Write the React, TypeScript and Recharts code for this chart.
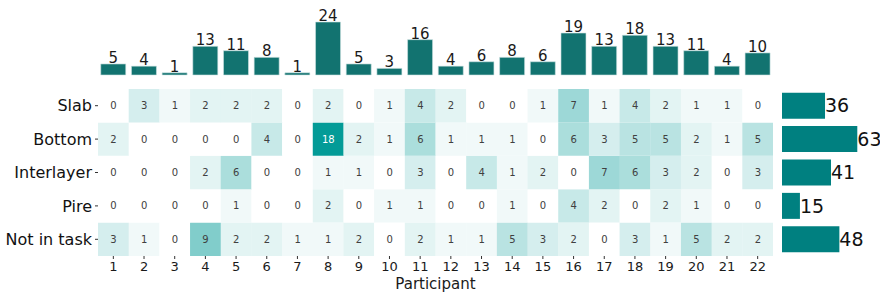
import React from "react"
import { BarChart, Bar, XAxis, YAxis, Cell, LabelList } from "recharts"

const participants = ["1", "2", "3", "4", "5", "6", "7", "8", "9", "10", "11", "12", "13", "14", "15", "16", "17", "18", "19", "20", "21", "22"]
const rowNames = ["Slab", "Bottom", "Interlayer", "Pire", "Not in task"]

const slab = [0, 3, 1, 2, 2, 2, 0, 2, 0, 1, 4, 2, 0, 0, 1, 7, 1, 4, 2, 1, 1, 0]
const bottom = [2, 0, 0, 0, 0, 4, 0, 18, 2, 1, 6, 1, 1, 1, 0, 6, 3, 5, 5, 2, 1, 5]
const interlayer = [0, 0, 0, 2, 6, 0, 0, 1, 1, 0, 3, 0, 4, 1, 2, 0, 7, 6, 3, 2, 0, 3]
const pire = [0, 0, 0, 0, 1, 0, 0, 2, 0, 1, 1, 0, 0, 1, 0, 4, 2, 0, 2, 1, 0, 0]
const notInTask = [3, 1, 0, 9, 2, 2, 1, 1, 2, 0, 2, 1, 1, 5, 3, 2, 0, 3, 1, 5, 2, 2]

const columnTotals = [5, 4, 1, 13, 11, 8, 1, 24, 5, 3, 16, 4, 6, 8, 6, 19, 13, 18, 13, 11, 4, 10]
const rowTotals = [36, 63, 41, 15, 48]

const rows = [slab, bottom, interlayer, pire, notInTask]
const maxVal = 18

const font = "DejaVu Sans, sans-serif"

function cellColor(v: number) {
  const t = v / maxVal
  const end = [3, 155, 151]
  const c = end.map((e) => Math.round(255 + (e - 255) * t))
  return `rgb(${c[0]},${c[1]},${c[2]})`
}

// one constant-height stacked segment per row, coloured by its value
const heatData = participants.map((p) => ({ p, r0: 1, r1: 1, r2: 1, r3: 1, r4: 1 }))
const topData = participants.map((p, i) => ({ p, total: columnTotals[i] }))
const sideData = rowNames.map((name, i) => ({ name, total: rowTotals[i] }))

function cellLabel(rowIdx: number) {
  return (props: any) => {
    const { x, y, width, height, index } = props
    const v = rows[rowIdx][index]
    return (
      <text
        x={x + width / 2}
        y={y + height / 2}
        dy="0.35em"
        textAnchor="middle"
        fontSize={10}
        fontFamily={font}
        fill={v > 12 ? "#ffffff" : "#404040"}
      >
        {v}
      </text>
    )
  }
}

export default function App() {
  const order = [4, 3, 2, 1, 0]
  return (
    <div style={{ position: "absolute", left: 0, top: 0, width: 880, height: 294, background: "#fff", fontFamily: font }}>
      <div style={{ position: "absolute", left: 0, top: 0 }}>
        <BarChart width={773} height={80} data={topData} margin={{ top: 22, right: 0, left: 98, bottom: 5 }} barCategoryGap="9%">
          <XAxis dataKey="p" hide />
          <YAxis hide domain={[0, 24]} />
          <Bar dataKey="total" fill="#127370" stroke="#cfe3e2" strokeWidth={0.6} isAnimationActive={false}>
            <LabelList dataKey="total" position="top" offset={1} fontSize={15} fill="#1a1a1a" fontFamily={font} />
          </Bar>
        </BarChart>
      </div>

      <div style={{ position: "absolute", left: 0, top: 0 }}>
        <BarChart width={773} height={294} data={heatData} margin={{ top: 89, right: 0, left: 0, bottom: 0 }} barCategoryGap={0} barGap={0}>
          <XAxis
            dataKey="p"
            height={38}
            axisLine={false}
            tickSize={3}
            tickMargin={3}
            tickLine={{ stroke: "#333" }}
            tick={{ fontSize: 13, fill: "#1a1a1a", fontFamily: font }}
            interval={0}
            label={{ value: "Participant", position: "insideBottom", offset: 5, fontSize: 15, fill: "#1a1a1a", fontFamily: font }}
          />
          <YAxis
            type="number"
            width={98}
            domain={[0, 5]}
            ticks={[0.5, 1.5, 2.5, 3.5, 4.5]}
            tickFormatter={(v: number) => rowNames[4 - Math.floor(v)]}
            axisLine={false}
            tickSize={3}
            tickMargin={3}
            tickLine={{ stroke: "#333" }}
            tick={{ fontSize: 16, fill: "#111", fontFamily: font }}
          />
          {order.map((r) => (
            <Bar key={r} dataKey={`r${r}`} stackId="h" isAnimationActive={false}>
              {participants.map((_, i) => (
                <Cell key={i} fill={cellColor(rows[r][i])} />
              ))}
              <LabelList dataKey={`r${r}`} content={cellLabel(r)} />
            </Bar>
          ))}
        </BarChart>
      </div>

      <div style={{ position: "absolute", left: 775, top: 0 }}>
        <BarChart width={105} height={294} data={sideData} layout="vertical" margin={{ top: 89, right: 22.7, left: 7, bottom: 38 }} barCategoryGap="11%">
          <XAxis type="number" hide domain={[0, 63]} />
          <YAxis type="category" dataKey="name" hide />
          <Bar dataKey="total" fill="#008080" isAnimationActive={false}>
            <LabelList dataKey="total" position="right" offset={0} fontSize={19} fill="#111" fontFamily={font} />
          </Bar>
        </BarChart>
      </div>
    </div>
  )
}
